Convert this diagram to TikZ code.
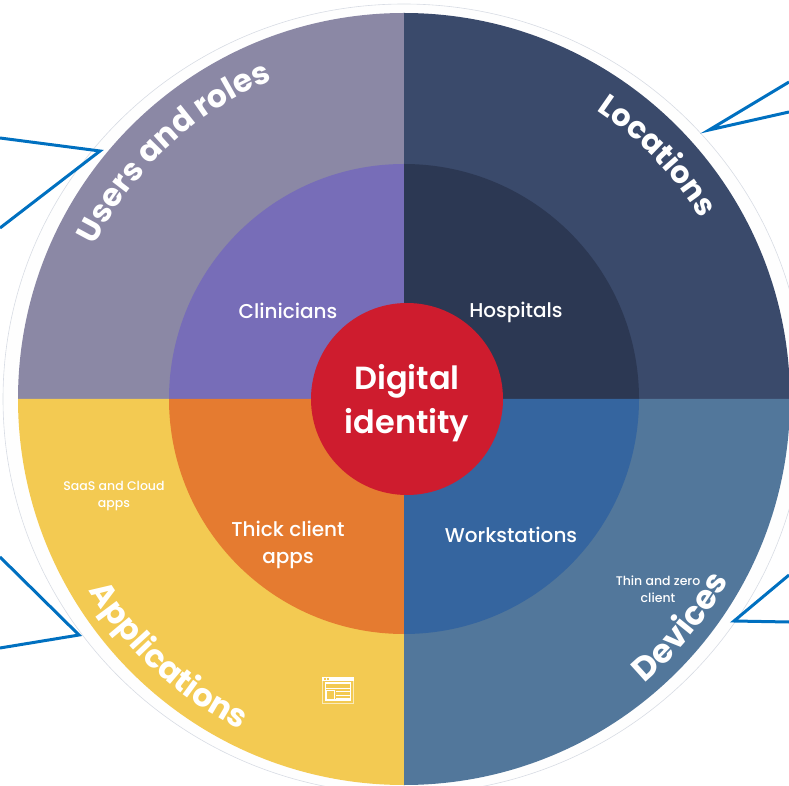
\documentclass[tikz,border=0pt]{standalone}
\usepackage{fontspec}
\setmainfont{Poppins}
\newfontfamily\semi{Poppins SemiBold}
\newfontfamily\med{Poppins Medium}
\newfontfamily\bld{Poppins Bold}
\usetikzlibrary{decorations.text}
\definecolor{cusers}{HTML}{8B88A5}
\definecolor{cloc}{HTML}{3A4A6B}
\definecolor{cdev}{HTML}{52779B}
\definecolor{capp}{HTML}{F3CA52}
\definecolor{cpurple}{HTML}{776DB8}
\definecolor{cdark}{HTML}{2C3853}
\definecolor{cblue}{HTML}{35659F}
\definecolor{corange}{HTML}{E57B30}
\definecolor{cred}{HTML}{CE1C2E}
\definecolor{cline}{HTML}{0070C0}
\definecolor{cring}{HTML}{D8DCE4}
\tikzset{
  x=1pt,y=1pt,
  lab/.style={text=white,align=center,font=\med\fontsize{20}{27}\selectfont,inner sep=0pt},
  tiny/.style={text=white,align=center,font=\med\fontsize{12.5}{17}\selectfont,inner sep=0pt},
  callout/.style={draw=cline,line width=3pt,miter limit=20,line join=miter},
  curved/.style={decorate,decoration={text along path,text align=center,text color=white}}
}
\begin{document}
\begin{tikzpicture}
\useasboundingbox (0,0) rectangle (789,785);
\clip (0,0) rectangle (789,785);
\coordinate (O) at (404,386);
\coordinate (C) at (407,386);
% outer ring
\draw[cring,fill=white!98!cring,line width=.6pt] (O) ellipse [x radius=401,y radius=395];
% quadrants
\fill[cusers] (O) -- ++(90:386) arc (90:180:386) -- cycle;
\fill[cloc]   (O) -- ++(0:386) arc (0:90:386) -- cycle;
\fill[capp]   (O) -- ++(180:386) arc (180:270:386) -- cycle;
\fill[cdev]   (O) -- ++(270:386) arc (270:360:386) -- cycle;
\fill[cpurple] (O) -- ++(90:235) arc (90:180:235) -- cycle;
\fill[cdark]   (O) -- ++(0:235) arc (0:90:235) -- cycle;
\fill[corange] (O) -- ++(180:235) arc (180:270:235) -- cycle;
\fill[cblue]   (O) -- ++(270:235) arc (270:360:235) -- cycle;
% centre
\node[circle,fill=cred,minimum size=192pt,inner sep=0pt] (centre) at (C) {};
\node[text=white,align=center,inner sep=0pt,font=\semi\fontsize{32}{44}\selectfont] (centretext) at (407,381.5) {Digital\\identity};
% inner labels
\node[lab] (clin) at (288,474) {Clinicians};
\node[lab] (hosp) at (516,473) {Hospitals};
\node[lab] (thick) at (288,240) {Thick client\\apps};
\node[lab] (work) at (511,250) {Workstations};
\node[tiny] (saas) at (114,288.5) {SaaS and Cloud\\apps};
\node[tiny] (thin) at (658,196) {Thin and zero\\client};
% curved titles
\path[curved,decoration={text={|\bld\fontsize{31.5}{40}\selectfont|Users and roles}}]
  (O) ++(160:345) arc (160:106:345);
\path[curved,decoration={text={|\bld\fontsize{30.5}{40}\selectfont|Locations}}]
  (O) ++(62.5:347) arc (62.5:25:347);
\path[curved,decoration={text={|\bld\fontsize{32}{40}\selectfont|Applications}}]
  (O) ++(205:369) arc (205:250:369);
\path[curved,decoration={text={|\bld\fontsize{33}{40}\selectfont|Devices}}]
  (O) ++(305.5:372) arc (305.5:335.5:372);
% connectors
\coordinate (a1) at (0,647); \coordinate (a2) at (100,634); \coordinate (a3) at (0,557);
\draw[callout] (a1) -- (a2) -- (a3);
\coordinate (b1) at (789,703); \coordinate (b2) at (709,655); \coordinate (b3) at (789,673);
\draw[callout] (b1) -- (b2) -- (b3);
\coordinate (c1) at (0,228); \coordinate (c2) at (79,150); \coordinate (c3) at (0,137);
\draw[callout] (c1) -- (c2) -- (c3);
\coordinate (d1) at (789,210); \coordinate (d2) at (734,164); \coordinate (d3) at (789,163);
\draw[callout] (d1) -- (d2) -- (d3);
% window icon
\begin{scope}[white]
\draw[white!60!capp,line width=1pt] (322.5,82) rectangle (353.5,106);
\fill (322,104) rectangle (354,108);
\fill[capp] (324,105) rectangle (326,107);
\fill[capp] (327,105) rectangle (329,107);
\draw[line width=1.5pt] (325.5,85) rectangle (350.5,102);
\fill (326,96) rectangle (350,97.5);
\draw[line width=1pt] (326,85.5) rectangle (334,95);
\fill (336,93) rectangle (350,94);
\fill (336,89.5) rectangle (350,90.5);
\fill (336,86.5) rectangle (350,87.5);
\end{scope}
\end{tikzpicture}
\end{document}
